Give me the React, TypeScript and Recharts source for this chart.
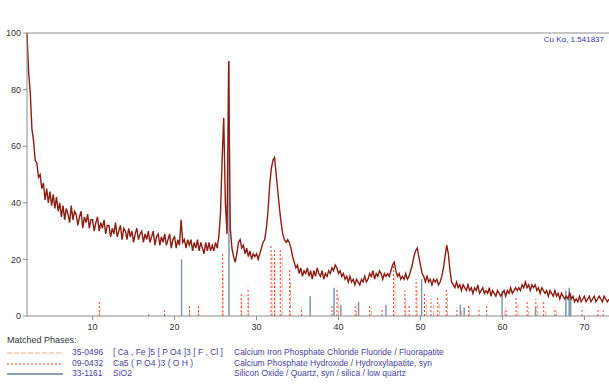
import { ComposedChart, Line, XAxis, YAxis, ReferenceLine } from 'recharts';

// scan: 2θ from 2° in 0.2° steps
const START = 2;
const STEP = 0.2;
const intensity = [
  100, 86, 79, 66, 62, 55, 54, 49, 50, 45,
  47, 41, 45, 40, 44, 39, 43, 38, 42, 37,
  40, 35, 39, 34, 38, 36, 33, 39, 34, 37,
  36, 32, 35, 37, 31, 35, 33, 36, 31, 34,
  34, 30, 33, 35, 30, 33, 31, 34, 29, 32,
  32, 28, 31, 29, 33, 28, 30, 32, 27, 31,
  30, 27, 31, 28, 30, 26, 29, 31, 27, 29,
  30, 26, 29, 27, 30, 26, 28, 30, 25, 28,
  29, 25, 28, 26, 29, 25, 27, 29, 24, 27,
  28, 24, 27, 25, 34, 26, 27, 24, 27, 25,
  27, 23, 26, 24, 27, 23, 26, 24, 22, 26,
  23, 26, 23, 25, 23, 26, 24, 28, 36, 55,
  70, 40, 29, 90, 31, 24, 21, 19, 22, 26,
  27, 24, 25, 22, 24, 21, 23, 20, 22, 21,
  22, 20, 22, 24, 26, 27, 31, 37, 46, 52,
  55, 56, 50, 44, 38, 33, 29, 27, 26, 27,
  26, 24, 21, 19, 17, 18, 15, 17, 14, 16,
  15, 17, 14, 16, 13, 16, 14, 17, 15, 14,
  16, 13, 15, 14, 16, 15, 17, 16, 18, 17,
  15, 16, 14, 15, 13, 14, 12, 14, 12, 13,
  11, 13, 12, 11, 13, 12, 14, 12, 13, 15,
  14, 16, 13, 15, 14, 16, 15, 13, 15, 14,
  15, 14, 16, 18, 19, 16, 14, 15, 13, 14,
  13, 15, 13, 14, 16, 18, 21, 23, 24, 21,
  18, 15, 14, 12, 14, 12, 13, 11, 13, 12,
  13, 11, 12, 14, 17, 21, 25, 22, 16, 12,
  11, 10, 12, 10, 11, 9, 11, 10, 9, 11,
  9, 10, 8, 10, 9, 11, 8, 9, 10, 8,
  9, 8, 10, 7, 9, 8, 7, 9, 8, 7,
  8, 9, 7, 9, 8, 10, 8, 9, 10, 9,
  10, 9, 11, 10, 12, 10, 11, 9, 11, 10,
  11, 9, 10, 8, 10, 9, 8, 9, 7, 9,
  8, 7, 9, 7, 8, 6, 8, 7, 6, 7,
  6, 8, 6, 7, 5, 6, 5, 7, 5, 6,
  7, 5, 6, 7, 5, 6, 7, 5, 6, 7,
  6, 5, 7, 6, 5, 6,
];

const xTicks = [10, 20, 30, 40, 50, 60, 70];
const yTicks = [0, 20, 40, 60, 80, 100];

// reference patterns: [2θ, displayed height]
const fluorapatite = [
  [10.86, 3], [21.85, 3], [22.95, 3], [25.9, 15], [28.2, 6], [29.05, 7], [31.9, 22], [32.25, 20],
  [33.12, 21], [34.15, 12], [39.35, 3], [40.0, 7], [42.2, 3], [44.0, 3], [46.9, 14], [48.2, 6],
  [49.6, 10], [50.7, 6], [51.6, 4], [52.3, 5], [53.3, 8], [55.0, 2], [56.0, 3], [60.3, 2],
  [61.9, 5], [63.2, 3], [64.3, 4], [65.3, 3], [66.6, 2],
];
const hydroxylapatite = [
  [10.82, 5], [16.84, 1], [18.78, 2], [21.82, 4], [22.9, 4], [25.88, 22], [28.13, 8], [28.97, 10],
  [31.77, 25], [32.2, 24], [32.9, 24], [34.05, 17], [35.48, 3], [39.2, 4], [39.82, 10], [42.03, 4],
  [43.8, 4], [45.31, 3], [46.71, 19], [48.1, 9], [48.62, 4], [49.47, 13], [50.49, 8], [51.28, 6],
  [52.1, 7], [53.14, 10], [54.44, 3], [55.88, 4], [57.13, 3], [58.07, 4], [60.45, 3], [61.66, 7],
  [63.01, 5], [64.08, 6], [65.03, 5], [66.4, 3], [69.7, 3], [71.65, 3], [72.29, 2],
];
const quartz = [
  [20.86, 20], [26.64, 90], [36.54, 7], [39.46, 10], [40.29, 4], [42.45, 5], [45.79, 4], [50.14, 13],
  [54.87, 4], [55.33, 3], [59.96, 9], [64.03, 3], [67.74, 9], [68.14, 10], [68.32, 8],
];

const phases = [
  { code: '35-0496', formula: '[ Ca , Fe ]5 [ P O4 ]3 [ F , Cl ]', name: 'Calcium Iron Phosphate Chloride Fluoride / Fluorapatite', color: '#f7a98c', dash: '5 2', width: 1 },
  { code: '09-0432', formula: 'Ca5 ( P O4 )3 ( O H )', name: 'Calcium Phosphate Hydroxide / Hydroxylapatite, syn', color: '#e5412b', dash: '2 2', width: 1 },
  { code: '33-1161', formula: 'SiO2', name: 'Silicon Oxide / Quartz, syn / silica / low quartz', color: '#8a9fb2', dash: undefined, width: 2 },
];

const data = intensity.map((v, i) => ({ t: Math.round((START + i * STEP) * 10) / 10, v }));

const textBlue = '#4a3f9e';
const font = '"Liberation Sans", Arial, sans-serif';

const App = () => {
  const sticks = (list: number[][], color: string, dash?: string, w = 1) =>
    list.map(([p, h], i) => (
      <ReferenceLine
        key={color + i}
        segment={[{ x: p, y: 0 }, { x: p, y: h }]}
        stroke={color}
        strokeWidth={w}
        strokeDasharray={dash}
        ifOverflow="visible"
      />
    ));

  return (
    <div style={{ position: 'absolute', left: 0, top: 0, width: 609, height: 385, background: '#fff', fontFamily: font }}>
      <ComposedChart width={609} height={385} data={data} margin={{ top: 33, right: 0, left: 5, bottom: 49 }}>
        <XAxis
          dataKey="t"
          type="number"
          domain={[2, 73]}
          ticks={xTicks}
          height={20}
          tickSize={4}
          axisLine={{ stroke: '#8c8c8c' }}
          tickLine={{ stroke: '#8c8c8c' }}
          tick={{ fontSize: 9, fill: '#333', fontFamily: font, dy: 2 }}
        />
        <YAxis
          type="number"
          domain={[0, 100]}
          ticks={yTicks}
          width={22}
          tickSize={4}
          axisLine={{ stroke: '#8c8c8c' }}
          tickLine={{ stroke: '#8c8c8c' }}
          tick={{ fontSize: 9, fill: '#333', fontFamily: font }}
        />
        <ReferenceLine y={100} stroke="#8c8c8c" ifOverflow="visible" />
        {sticks(fluorapatite, '#f7a98c', '5 2')}
        {sticks(hydroxylapatite, '#e5412b', '2 2')}
        {sticks(quartz, '#7f97ad', undefined, 1.5)}
        <Line dataKey="v" stroke="#8b1d12" strokeWidth={1.4} dot={false} isAnimationActive={false} />
      </ComposedChart>
      <div style={{ position: 'absolute', right: 5, top: 35, fontSize: 8, color: '#3535a8' }}>Cu Kα, 1.541837</div>
      <div style={{ position: 'absolute', left: 7, top: 335, fontSize: 9, color: '#333' }}>Matched Phases:</div>
      {phases.map((ph, i) => (
        <div key={ph.code} style={{ position: 'absolute', left: 0, top: 347 + i * 10.5, height: 11, width: 609, fontSize: 8.5, color: textBlue, whiteSpace: 'nowrap' }}>
          <svg width={60} height={11} style={{ position: 'absolute', left: 5, top: 0 }}>
            <line x1={2} x2={58} y1={6} y2={6} stroke={ph.color} strokeWidth={ph.width} strokeDasharray={ph.dash} />
          </svg>
          <span style={{ position: 'absolute', left: 72, top: 0 }}>{ph.code}</span>
          <span style={{ position: 'absolute', left: 113, top: 0 }}>{ph.formula}</span>
          <span style={{ position: 'absolute', left: 234, top: 0 }}>{ph.name}</span>
        </div>
      ))}
    </div>
  );
};

export default App;
